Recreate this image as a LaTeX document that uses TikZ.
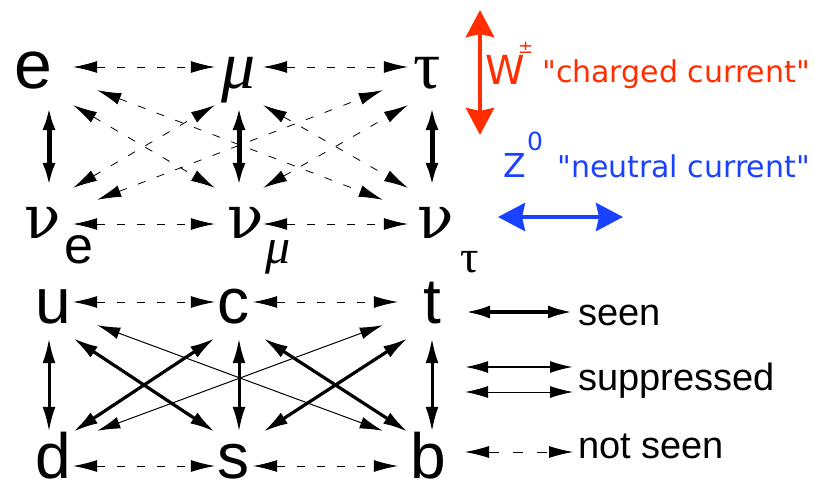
\documentclass[tikz,border=0pt]{standalone}
\usepackage{fontspec}
\setmainfont{Liberation Sans}
\newfontfamily\grk{Liberation Serif}
\newfontfamily\nufont{DejaVu Serif}
\newfontfamily\comic[Ligatures=ResetAll]{DejaVu Sans}
\usetikzlibrary{arrows.meta,calc}

\definecolor{wred}{RGB}{255,45,0}
\definecolor{zblue}{RGB}{25,65,255}

% move a glyph sideways without changing its box
\newcommand{\nudge}[2]{\kern#1pt#2\kern-#1pt}

\tikzset{
  slot/.style={minimum width=48pt, inner sep=0pt},
  lep/.style={slot, minimum height=76pt, text height=50pt, text depth=8pt},
  neu/.style={slot, minimum height=76pt, text height=30pt, text depth=6pt,
    font=\nufont\fontsize{60}{60}\selectfont},
  qrk/.style={slot, text height=46pt, text depth=12pt, minimum height=64pt,
    font=\fontsize{64}{64}\selectfont},
  qrkb/.style={qrk, text depth=0pt, minimum height=46pt},
  sub/.style={anchor=base, inner sep=0pt},
  legtext/.style={anchor=base west, inner sep=0pt, font=\fontsize{38}{38}\selectfont},
  cur/.style={anchor=base west, inner sep=0pt, font=\comic\fontsize{30}{30}\selectfont},
  notseen/.style={<->, >={Latex[length=24pt,width=12pt]}, line width=0.8pt,
    dash pattern=on 8pt off 12pt},
  seen/.style={<->, >={Latex[length=25pt,width=13pt]}, line width=3.2pt},
  supp/.style={<->, >={Latex[length=23pt,width=12pt]}, line width=1pt},
  boson/.style={<->, >={Stealth[length=27pt,width=28pt,inset=3pt]}, line width=4.5pt}
}

\begin{document}
\begin{tikzpicture}[x=1pt, y=-1pt]
\useasboundingbox (0,0) rectangle (814,485);

% leptons
\node[lep, font=\fontsize{68}{68}\selectfont] (e) at (49,67) {\nudge{-16}{e}};
\node[lep, font=\grk\itshape\fontsize{68}{68}\selectfont] (mu) at (239,67) {μ};
\node[lep, font=\grk\fontsize{68}{68}\selectfont] (tau) at (432,67) {\nudge{-5}{τ}};
\node[neu] (nue) at (49,226) {\nudge{-6}{ν}};
\node[neu] (numu) at (239,226) {\nudge{7}{ν}};
\node[neu] (nutau) at (432,226) {\nudge{4}{ν}};
\node[sub, font=\fontsize{52}{52}\selectfont] (nue-e) at (79,263) {e};
\node[sub, font=\grk\itshape\fontsize{50}{50}\selectfont] (numu-mu) at (278,263) {μ};
\node[sub, font=\grk\fontsize{46}{46}\selectfont] (nutau-tau) at (470,272) {τ};

\draw[notseen] (e.east) -- (mu.west);
\draw[notseen] (mu.east) -- (tau.west);
\draw[notseen] ([yshift=2pt]nue.east) -- ([yshift=2pt]numu.west);
\draw[notseen] ([yshift=2pt]numu.east) -- ([yshift=2pt]nutau.west);
\draw[seen, line width=5pt] (e) -- (nue);
\draw[seen, line width=5pt] (mu) -- (numu);
\draw[seen, line width=5pt] (tau) -- (nutau);
\draw[notseen] (e.south east) -- (numu.north west);
\draw[notseen] (nue.north east) -- (mu.south west);
\draw[notseen] (mu.south east) -- (nutau.north west);
\draw[notseen] (numu.north east) -- (tau.south west);
\draw[notseen] ($(e.south east)+(24,-15)$) -- ($(nutau.north west)+(-25,12)$);
\draw[notseen] ($(nue.north east)+(24,12)$) -- ($(tau.south west)+(-25,-15)$);

% quarks
\node[qrk] (u) at (49,306) {\nudge{4}{u}};
\node[qrk] (c) at (239,306) {\nudge{-6}{c}};
\node[qrk] (t) at (432,306) {t};
\node[qrkb] (d) at (49,455) {\nudge{4}{d}};
\node[qrkb] (s) at (239,455) {\nudge{-6}{s}};
\node[qrkb] (b) at (432,455) {\nudge{-4}{b}};

\draw[notseen] ([yshift=4pt]u.east) -- ([yshift=4pt]c.west);
\draw[notseen] ([xshift=-10pt,yshift=4pt]c.east) -- ([xshift=-10pt,yshift=4pt]t.west);
\draw[notseen] ([yshift=-11pt]d.east) -- ([yshift=-11pt]s.west);
\draw[notseen] ([xshift=-10pt,yshift=-11pt]s.east) -- ([xshift=-10pt,yshift=-11pt]b.west);
\draw[seen, line width=3pt] (u) -- (d);
\draw[seen, line width=3pt] (c) -- (s);
\draw[seen, line width=3pt] (t) -- (b);
\draw[seen] (u.south east) -- (s.north west);
\draw[seen] (d.north east) -- (c.south west);
\draw[seen] (c.south east) -- (b.north west);
\draw[seen] (s.north east) -- (t.south west);
\draw[supp] ($(u.south east)+(24,-13)$) -- ($(b.north west)+(-25,-1)$);
\draw[supp] ($(d.north east)+(24,-1)$) -- ($(t.south west)+(-25,-13)$);

% W and Z
\coordinate (wtop) at (480,10);
\coordinate (wbot) at (480,135);
\draw[boson, wred] (wtop) -- (wbot);
\node[cur, text=wred, font=\comic\fontsize{40}{40}\selectfont] (wname) at (485,84) {W};
\node[cur, text=wred, font=\comic\fontsize{18}{18}\selectfont] (wpm) at (518,53) {±};
\node[cur, text=wred] (wcur) at (542,82) {"charged current"};
\node[cur, text=zblue, font=\comic\fontsize{33}{33}\selectfont] (zname) at (503,177) {Z};
\node[cur, text=zblue, font=\comic\fontsize{25}{25}\selectfont] (zzero) at (527,150) {0};
\node[cur, text=zblue] (zcur) at (557,177) {"neutral current"};
\coordinate (zleft) at (498,217);
\coordinate (zright) at (623,217);
\draw[boson, zblue, line width=4pt] (zleft) -- (zright);

% legend
\coordinate (seenL) at (465,312);
\coordinate (seenR) at (573,312);
\draw[seen, line width=4pt] (seenL) -- (seenR);
\node[legtext] (seentxt) at (578,325) {seen};
\coordinate (suppL) at (465,367);
\coordinate (suppR) at (573,367);
\draw[supp, line width=2pt] (suppL) -- (suppR);
\coordinate (suppL2) at (465,392);
\coordinate (suppR2) at (573,392);
\draw[supp] (suppL2) -- (suppR2);
\node[legtext] (supptxt) at (578,390) {suppressed};
\coordinate (notL) at (465,452);
\coordinate (notR) at (573,452);
\draw[notseen, dash pattern=on 10pt off 14pt] (notL) -- (notR);
\node[legtext] (nottxt) at (578,458) {not seen};
\end{tikzpicture}
\end{document}
